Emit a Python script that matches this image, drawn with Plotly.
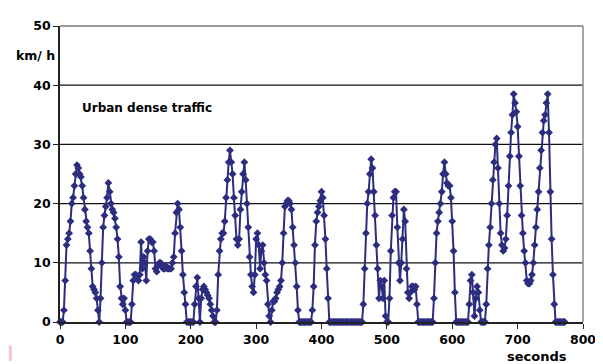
import plotly.graph_objects as go

# time step of 2 s, speeds in km/h
times = list(range(0, 774, 2))
speeds = [
    0, 0, 0, 2, 7, 13, 14, 15, 17, 20,
    21, 23, 25, 26.5, 26, 25, 24.5, 23, 21, 19,
    17, 16, 15, 12, 9, 6, 5.5, 5, 4, 2,
    0, 4, 10, 16, 18, 19.5, 21, 23.5, 22, 20,
    19, 18.5, 17.5, 16, 14, 11, 6, 4, 3, 4,
    2, 0, 0, 0, 0, 3, 7, 8, 8, 7.5,
    7, 8, 13.5, 9, 11, 10, 7, 12, 14, 14,
    13.5, 13.5, 12, 9, 8.5, 9.5, 10, 10, 9.5, 9,
    9, 9.5, 9, 9, 9, 9, 10, 11, 15, 18.5,
    20, 19, 16, 12, 8, 5, 3, 0, 0, 0,
    0, 0, 0, 3, 6, 7.5, 4, 0, 4, 5.5,
    6, 5.5, 5, 4.5, 4, 3, 2, 1, 0, 0,
    2, 8, 12, 14, 15, 15, 17, 21, 24, 27,
    29, 27, 25, 21, 18, 14, 13, 14, 19, 22,
    25, 27, 24, 20, 16, 11, 8, 6, 5, 8,
    14, 15, 13, 9, 12, 13, 10, 8, 7, 3,
    1, 0, 2, 3.5, 3.5, 4, 5, 5.5, 6, 7,
    10, 15, 19.5, 20, 20.5, 20.5, 20, 19, 16, 13,
    10, 6, 2, 0, 0, 0, 0, 0, 0, 0,
    0, 0, 0, 2, 6, 13, 17, 18.5, 19.5, 20.5,
    22, 21, 18, 14, 9, 4, 0, 0, 0, 0,
    0, 0, 0, 0, 0, 0, 0, 0, 0, 0,
    0, 0, 0, 0, 0, 0, 0, 0, 0, 0,
    0, 0, 3, 9, 15, 20, 22, 25, 27.5, 26,
    22, 18, 13, 9, 4, 7, 6, 4, 7, 1,
    0, 0, 4, 12, 18, 21, 22, 22, 16, 10,
    7, 10, 14, 19, 17, 9, 5, 4, 5, 6,
    6, 5.5, 6, 3, 0, 0, 0, 0, 0, 0,
    0, 0, 0, 0, 0, 0, 4, 10, 15, 17,
    18.5, 20, 22, 25, 27, 25, 23.5, 23, 23, 21,
    17, 12, 5, 0, 0, 0, 0, 0, 0, 0,
    0, 0, 0, 3, 7, 8, 5, 1, 4, 6,
    5, 2, 0, 0, 0, 0, 3, 9, 13, 16,
    20, 24, 27, 30, 31, 26, 20, 15, 13, 12,
    12.5, 14, 18, 23, 28, 32, 35, 38.5, 37, 35.5,
    33, 28, 23, 18, 15, 12, 10, 7, 6.5, 6.5,
    7, 8, 10, 13, 16, 19, 22, 26, 29, 32,
    34, 35, 37, 38.5, 32, 22, 14, 8, 3, 0,
    0, 0, 0, 0, 0, 0, 0,
]

x_ticks = [0, 100, 200, 300, 400, 500, 600, 700, 800]
y_ticks = [0, 10, 20, 30, 40, 50]
title_text = "Urban dense traffic"
y_unit = "km/ h"
x_unit = "seconds"

n = min(len(times), len(speeds))
navy = "#2d2d80"
font_fam = "DejaVu Sans, Liberation Sans, Arial, sans-serif"

fig = go.Figure()
fig.add_trace(go.Scatter(
    x=times[:n], y=speeds[:n], mode="lines+markers",
    line=dict(color=navy, width=2),
    marker=dict(symbol="diamond", size=6, color=navy),
    showlegend=False, hoverinfo="skip", cliponaxis=False,
))

fig.update_layout(
    width=603, height=364,
    margin=dict(l=52, r=28, t=10, b=50),
    paper_bgcolor="white", plot_bgcolor="white",
    font=dict(family=font_fam, color="black"),
    xaxis=dict(
        range=[0, 800], tickvals=x_ticks, ticktext=[f"<b>{v}</b>" for v in x_ticks],
        showgrid=False, zeroline=False, showline=True, linecolor="#222", linewidth=1.5,
        ticks="outside", ticklen=5, tickcolor="#222", tickfont=dict(size=12.5),
    ),
    yaxis=dict(
        range=[0, 50], tickvals=y_ticks, ticktext=[f"<b>{v}</b>" for v in y_ticks],
        showgrid=False, zeroline=False, showline=True, linecolor="#222", linewidth=1.5,
        ticks="outside", ticklen=5, tickcolor="#222", tickfont=dict(size=12.5),
    ),
)

shapes = []
for v in y_ticks[1:-1]:
    shapes.append(dict(type="line", xref="paper", x0=0, x1=1, yref="y", y0=v, y1=v,
                       line=dict(color="#111", width=1.2), layer="below"))
shapes.append(dict(type="line", xref="paper", x0=0, x1=1, yref="paper", y0=1, y1=1,
                   line=dict(color="#777", width=1.5)))
shapes.append(dict(type="line", xref="paper", x0=1, x1=1, yref="paper", y0=0, y1=1,
                   line=dict(color="#888", width=1.5)))
shapes.append(dict(type="rect", xref="paper", yref="paper", x0=-0.098, x1=-0.092,
                   y0=-0.132, y1=-0.079, fillcolor="#f6c6cf", line=dict(width=0)))
fig.update_layout(shapes=shapes)

fig.add_annotation(x=30, y=36.2, xref="x", yref="y", text=f"<b>{title_text}</b>",
                   showarrow=False, xanchor="left", yanchor="middle", font=dict(size=12))
fig.add_annotation(x=-0.046, y=0.902, xref="paper", yref="paper", text=f"<b>{y_unit}</b>",
                   showarrow=False, xanchor="center", yanchor="middle", font=dict(size=12.5))
fig.add_annotation(x=0.912, y=-0.118, xref="paper", yref="paper", text=f"<b>{x_unit}</b>",
                   showarrow=False, xanchor="center", yanchor="middle", font=dict(size=13))

fig.write_html("out.html")
